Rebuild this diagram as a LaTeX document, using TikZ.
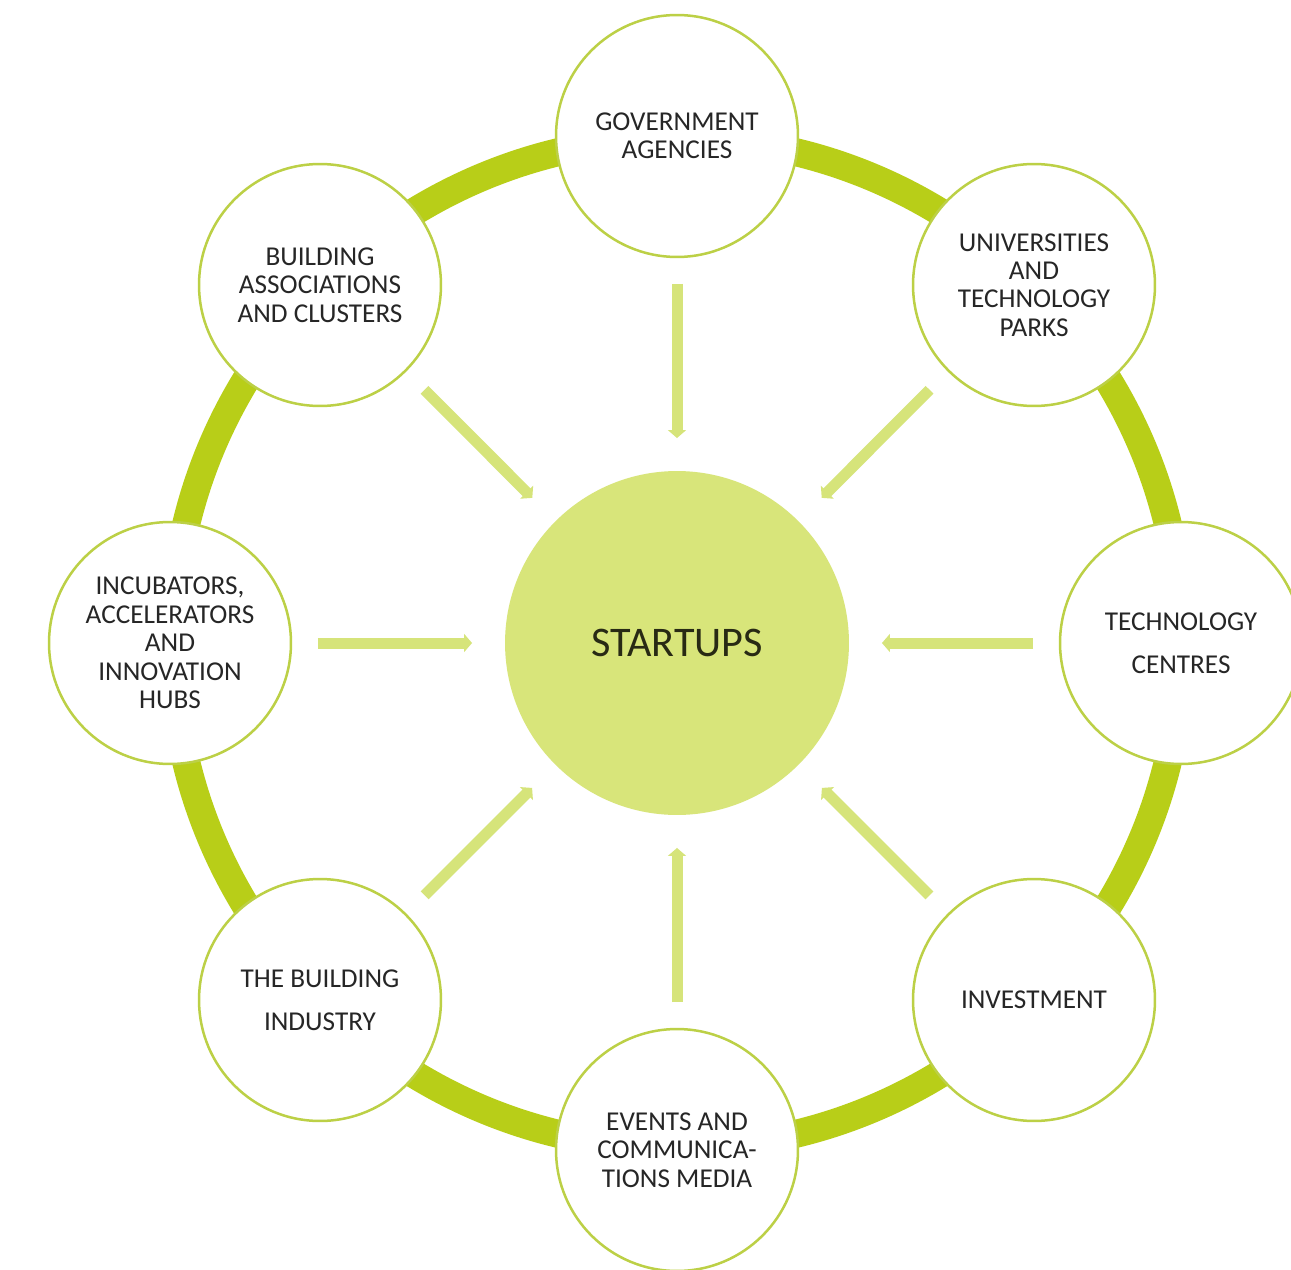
\documentclass[tikz,border=0pt]{standalone}
\usepackage{fontspec}
\setmainfont{Carlito}
\usetikzlibrary{arrows.meta,backgrounds}
\definecolor{ringc}{RGB}{184,206,24}
\definecolor{edgec}{RGB}{188,208,70}
\definecolor{fillc}{RGB}{216,229,122}
\definecolor{arrc}{RGB}{214,228,122}
\definecolor{txtc}{RGB}{38,38,38}
\begin{document}
\begin{tikzpicture}[x=0.02cm,y=-0.02cm,
  outer/.style={circle, draw=edgec, line width=0.05cm, fill=white, minimum size=4.84cm, inner sep=0pt, align=center, text=txtc, font=\fontsize{15.5}{16.2}\selectfont},
  hub/.style={circle, fill=fillc, minimum size=6.88cm, inner sep=0pt, text={rgb,255:red,40;green,42;blue,20}, font=\fontsize{24}{28}\selectfont},
  spoke/.style={draw=arrc, line width=0.22cm, shorten <=2.96cm, shorten >=4.1cm, -{Triangle[width=0.36cm,length=0.16cm]}}]
\useasboundingbox (0,0) rectangle (1291,1270);
\node[hub] (st) at (677,643) {STARTUPS};
\node[outer] (gov) at (677,136) {GOVERNMENT\\AGENCIES};
\node[outer] (uni) at (1034,285) {UNIVERSITIES\\AND\\TECHNOLOGY\\PARKS};
\node[outer] (tech) at (1181,643) {TECHNOLOGY\\[8pt]CENTRES};
\node[outer] (inv) at (1034,1000) {INVESTMENT};
\node[outer] (evt) at (677,1150) {EVENTS AND\\COMMUNICA-\\TIONS MEDIA};
\node[outer] (bind) at (320,1000) {THE BUILDING\\[8pt]INDUSTRY};
\node[outer] (inc) at (170,643) {INCUBATORS,\\ACCELERATORS\\AND\\INNOVATION\\HUBS};
\node[outer] (bac) at (320,285) {BUILDING\\ASSOCIATIONS\\AND CLUSTERS};
\begin{scope}[on background layer]
\fill[white] (0,0) rectangle (1291,1270);
\draw[ringc, line width=0.56cm] (st.center) circle[radius=10.1cm];
\end{scope}
\foreach \n in {gov,uni,tech,inv,evt,bind,inc,bac}
  \draw[spoke] (\n.center) -- (st.center);
\end{tikzpicture}
\end{document}
